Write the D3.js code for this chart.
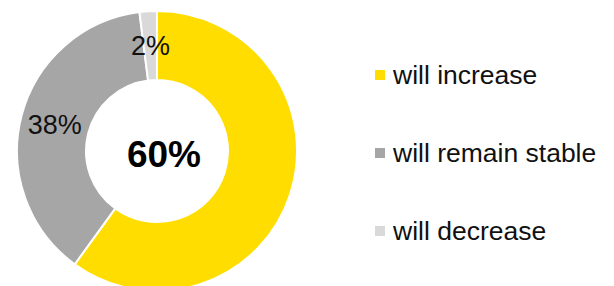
<!DOCTYPE html>
<html>
<head>
<meta charset="utf-8">
<script src="https://cdn.jsdelivr.net/npm/d3@7"></script>
<style>
  html, body { margin: 0; padding: 0; background: #fff; }
  svg { display: block; font-family: "Liberation Sans", Arial, Helvetica, sans-serif; }
</style>
</head>
<body>
<svg id="chart" width="614" height="286"></svg>
<script>
const categories = ["will increase", "will remain stable", "will decrease"];
const values = [60, 38, 2];
const labels = ["60%", "38%", "2%"];
const colors = ["#FFDD00", "#A6A6A6", "#D9D9D9"];

const svg = d3.select("#chart");
const cx = 157, cy = 151, rOuter = 140, rInner = 71;

const data = categories.map((c, i) => ({ cat: c, value: values[i], label: labels[i], color: colors[i] }));

const pie = d3.pie().sort(null).value(d => d.value).startAngle(0).endAngle(2 * Math.PI);
const arc = d3.arc().innerRadius(rInner).outerRadius(rOuter);
const arcs = pie(data);

const g = svg.append("g").attr("transform", `translate(${cx},${cy})`);

g.selectAll("path.slice")
  .data(arcs)
  .enter().append("path")
  .attr("class", "slice")
  .attr("d", arc)
  .attr("fill", d => d.data.color)
  .attr("stroke", "#fff")
  .attr("stroke-width", 2);

// Slice labels (all but the first, which is shown in the centre)
g.selectAll("text.slabel")
  .data(arcs.slice(1))
  .enter().append("text")
  .attr("class", "slabel")
  .attr("x", d => arc.centroid(d)[0])
  .attr("y", d => arc.centroid(d)[1] + 9.5)
  .attr("text-anchor", "middle")
  .attr("font-size", 27)
  .attr("fill", "#111")
  .text(d => d.data.label);

// Centre label
g.append("text")
  .attr("x", 7)
  .attr("y", 16)
  .attr("text-anchor", "middle")
  .attr("font-size", 37)
  .attr("font-weight", "bold")
  .attr("fill", "#000")
  .text(labels[0]);

// Legend
const legendY = d3.scalePoint().domain(categories).range([75, 231]);
const lg = svg.append("g");
const items = lg.selectAll("g.item")
  .data(data)
  .enter().append("g")
  .attr("class", "item")
  .attr("transform", d => `translate(375,${legendY(d.cat)})`);

items.append("rect")
  .attr("x", 0).attr("y", -5)
  .attr("width", 10).attr("height", 10)
  .attr("fill", d => d.color);

items.append("text")
  .attr("x", 18)
  .attr("y", 8.5)
  .attr("font-size", 26.5)
  .attr("fill", "#111")
  .text(d => d.cat);
</script>
</body>
</html>
